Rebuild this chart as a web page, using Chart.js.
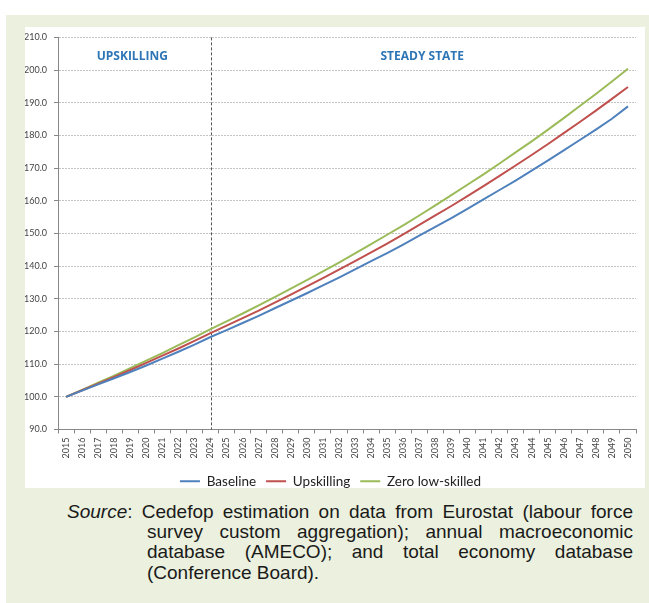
<!DOCTYPE html>
<html><head><meta charset="utf-8">
<script src="https://cdn.jsdelivr.net/npm/chart.js@4/dist/chart.umd.min.js"></script>
<style>
html,body{margin:0;padding:0;background:#fff;width:649px;height:603px;overflow:hidden;position:relative;}
#panel{position:absolute;left:6px;top:15px;width:643px;height:588px;background:#EBF1DE;}
#box{position:absolute;left:25px;top:27px;width:620px;height:461px;background:#fff;}
#wrap{position:absolute;left:25px;top:25px;width:620px;height:473px;}
.src{position:absolute;font-family:"Liberation Sans",Arial,sans-serif;font-size:19px;line-height:20px;color:#1a1a1a;white-space:nowrap;}
.j{text-align:justify;text-align-last:justify;white-space:normal;}
</style></head>
<body>
<div id="panel"></div>
<div id="box"></div>
<div id="wrap"><canvas id="c" width="620" height="473"></canvas></div>
<div class="src j" style="left:67px;top:502px;width:566px;"><i>Source</i>: Cedefop estimation on data from Eurostat (labour force</div>
<div class="src j" style="left:147px;top:522px;width:486px;">survey custom aggregation); annual macroeconomic</div>
<div class="src j" style="left:147px;top:542px;width:486px;">database (AMECO); and total economy database</div>
<div class="src" style="left:147px;top:563px;">(Conference Board).</div>
<script>
const years = ["2015","2016","2017","2018","2019","2020","2021","2022","2023","2024","2025","2026","2027","2028","2029","2030","2031","2032","2033","2034","2035","2036","2037","2038","2039","2040","2041","2042","2043","2044","2045","2046","2047","2048","2049","2050"];
const baseline = [100.0,101.9,103.8,105.7,107.6,109.6,111.7,113.8,116.0,118.3,120.4,122.6,124.8,127.1,129.4,131.7,134.1,136.5,139.0,141.5,144.0,146.6,149.3,152.0,154.7,157.5,160.4,163.3,166.2,169.2,172.3,175.4,178.6,181.8,185.1,188.9];
const upskilling = [100.0,102.0,104.0,106.1,108.2,110.4,112.6,114.8,117.1,119.5,121.8,124.1,126.4,128.8,131.3,133.8,136.3,138.9,141.5,144.2,146.9,149.7,152.6,155.5,158.4,161.4,164.5,167.6,170.8,174.0,177.3,180.7,184.1,187.6,191.2,194.8];
const zeroLowSkilled = [100.0,102.1,104.3,106.5,108.8,111.1,113.4,115.8,118.2,120.7,123.1,125.5,128.0,130.5,133.1,135.7,138.4,141.1,143.9,146.7,149.6,152.5,155.5,158.6,161.7,164.9,168.1,171.4,174.8,178.2,181.7,185.3,189.0,192.7,196.5,200.4];
const seriesNames = ["Baseline","Upskilling","Zero low-skilled"];
const seriesColors = ["#4F81BD","#C0504D","#9BBB59"];
const yMin = 90, yMax = 210, yStep = 10;
const phaseBoundary = "2024";
const phaseLabels = ["UPSKILLING","STEADY STATE"];

const phasePlugin = {
  id: 'phase',
  beforeDatasetsDraw(chart) {
    const {ctx, chartArea, scales} = chart;
    const xb = scales.x.getPixelForValue(years.indexOf(phaseBoundary));
    ctx.save();
    ctx.strokeStyle = '#555';
    ctx.lineWidth = 1;
    ctx.setLineDash([3, 2]);
    ctx.beginPath();
    ctx.moveTo(Math.round(xb) + 0.5, chartArea.top);
    ctx.lineTo(Math.round(xb) + 0.5, chartArea.bottom);
    ctx.stroke();
    ctx.setLineDash([]);
    ctx.fillStyle = '#2E75B6';
    ctx.font = 'bold 12px "Open Sans", sans-serif';
    ctx.textAlign = 'center';
    ctx.textBaseline = 'middle';
    const ty = chartArea.top + 19;
    ctx.fillText(phaseLabels[0], (chartArea.left + xb) / 2 - 2, ty);
    ctx.fillText(phaseLabels[1], (xb + chartArea.right) / 2 - 1, ty);
    ctx.restore();
  }
};

const datasets = [baseline, upskilling, zeroLowSkilled].map((d, i) => ({
  label: seriesNames[i], data: d, borderColor: seriesColors[i], backgroundColor: seriesColors[i],
  borderWidth: 2, pointRadius: 0, tension: 0, fill: false
}));

new Chart(document.getElementById('c'), {
  type: 'line',
  data: { labels: years, datasets },
  plugins: [phasePlugin],
  options: {
    responsive: false, animation: false,
    layout: { padding: { left: 0, right: 9, top: 2, bottom: 0 } },
    plugins: {
      tooltip: { enabled: false },
      legend: {
        position: 'bottom',
        labels: {
          boxWidth: 20, boxHeight: 2, padding: 10,
          color: '#222', font: { family: 'Lato', size: 13.5 },
          generateLabels: (chart) => Chart.defaults.plugins.legend.labels.generateLabels(chart).map(l => ({...l, lineWidth: 0}))
        }
      }
    },
    scales: {
      x: {
        offset: true,
        grid: { drawOnChartArea: false, drawTicks: true, tickLength: 4, offset: true, color: '#888' },
        border: { color: '#888' },
        ticks: { autoSkip: false, minRotation: 90, maxRotation: 90, padding: 4, color: '#444', font: { family: 'Lato', size: 9 } },
        afterFit: (s) => { s.height = 35; }
      },
      y: {
        min: yMin, max: yMax,
        afterFit: (s) => { s.width = 33; },
        grid: { color: '#c4c4c4', tickLength: 4, tickColor: '#888' },
        border: { color: '#888', dash: [2, 1] },
        ticks: { stepSize: yStep, padding: 7, color: '#444', font: { family: 'Lato', size: 9 }, callback: (v) => v.toFixed(1) }
      }
    }
  }
});
</script>
</body></html>
